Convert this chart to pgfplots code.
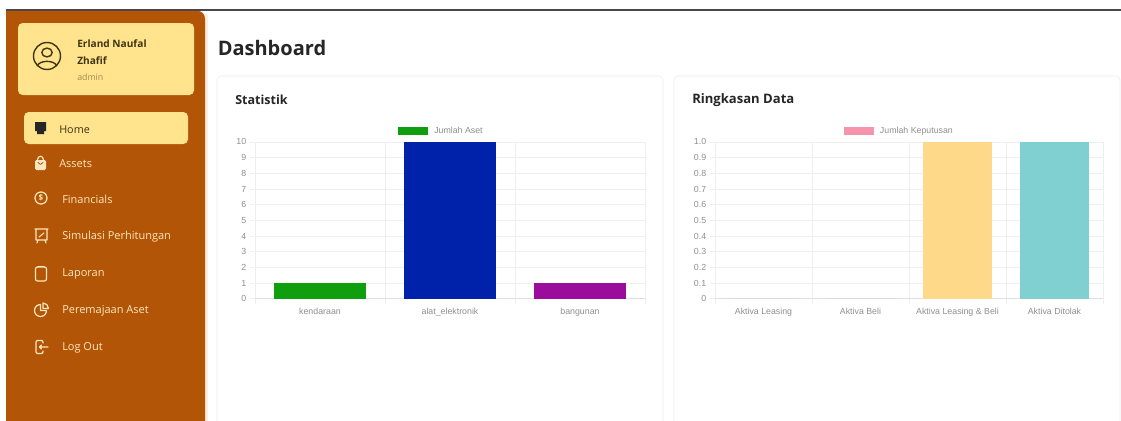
\documentclass[border=0pt]{standalone}
\usepackage{fontspec}
\usepackage{pgfplots}
\pgfplotsset{compat=1.18}
\setmainfont{Open Sans}
\newfontfamily\chartfont{Liberation Sans}
\definecolor{sidebar}{HTML}{B25506}
\definecolor{cream}{HTML}{FFE38D}
\definecolor{creamtext}{HTML}{FCE7BE}
\definecolor{inkdark}{HTML}{262626}
\definecolor{brownink}{HTML}{3F3512}
\definecolor{gridgray}{HTML}{EFEFEF}
\definecolor{axisgray}{HTML}{E0E0E0}
\definecolor{labelgray}{HTML}{8F8F8F}
\definecolor{cardline}{HTML}{F5F5F5}
\definecolor{edgeglow}{HTML}{FFEFE3}
\definecolor{barGreen}{HTML}{0E9E0E}
\definecolor{barBlue}{HTML}{0022AA}
\definecolor{barPurple}{HTML}{9C0C9C}
\definecolor{barPink}{HTML}{F493AA}
\definecolor{barSky}{HTML}{8CC4EA}
\definecolor{barYellow}{HTML}{FFD98A}
\definecolor{barTeal}{HTML}{80CFD1}

% shared look of both bar panels; sizes are given in screen pixels of 0.75pt
\pgfplotsset{
  panel/.style={
    scale only axis,
    height=156.7*0.75pt,
    axis line style={draw=gridgray,line width=0.6pt},
    ymin=0, ymax=10,
    ytick={0,1,...,10},
    xtick pos=bottom, ytick pos=left,
    ymajorgrids, grid style={draw=gridgray,line width=0.7pt},
    minor grid style={draw=gridgray,line width=0.7pt},
    xminorgrids,
    tick align=outside,
    major tick length=3.7pt,
    minor tick length=3.7pt,
    major x tick style={draw=none},
    minor x tick style={draw=gridgray,line width=0.6pt},
    y tick style={draw=gridgray,line width=0.6pt},
    x tick label style={font=\chartfont\fontsize{6.6}{8}\selectfont,text=labelgray,yshift=-0.2pt},
    y tick label style={font=\chartfont\fontsize{6.6}{8}\selectfont,text=labelgray,xshift=0.6pt},
    clip=false,
    legend cell align=left,
    legend style={draw=none,fill=none,inner sep=0pt,outer sep=0pt,
      font=\chartfont\fontsize{6.6}{8}\selectfont,text=labelgray},
    legend image code/.code={\fill[##1] (0pt,-3pt) rectangle (22.5pt,3pt);},
    every axis plot/.append style={ybar,bar shift=0pt,draw=none,forget plot},
  }
}

\begin{document}
\begin{tikzpicture}[x=0.75pt,y=-0.75pt,line cap=round,line join=round]
\useasboundingbox (0,0) rectangle (1121,421);
\fill[white] (0,0) rectangle (1121,421);

% top rule and cards
\fill[black!72] (6,9) rectangle (1121,10.8);
\draw[cardline,line width=0.8pt,rounded corners=3pt] (217,76) rectangle (663,425);
\draw[cardline,line width=0.8pt,rounded corners=3pt] (674,76) rectangle (1120,425);

% side bar
\fill[edgeglow] (205,14) rectangle (207.5,421);
\fill[sidebar] (6,10.8) -- (197,10.8) .. controls (202,10.8) and (205,14) .. (205,19) -- (205,421) -- (6,421) -- cycle;
\fill[cream,rounded corners=3.5pt] (18,23) rectangle (194,95);
\fill[cream,rounded corners=3.5pt] (24,112) rectangle (188,144);

% user badge
\draw[brownink,line width=1.05pt] (47,56) circle (13.5);
\draw[brownink,line width=1.05pt] (47,52.5) ellipse (5.2 and 4.4);
\draw[brownink,line width=1.05pt] (37.5,65.5) .. controls (40,60) and (54,60) .. (56.5,65.5);
\node[anchor=west,inner sep=0pt,text=brownink,font=\fontsize{7.6}{9}\selectfont\bfseries] at (77,44) {Erland Naufal};
\node[anchor=west,inner sep=0pt,text=brownink,font=\fontsize{7.6}{9}\selectfont\bfseries] at (77,61) {Zhafif};
\node[anchor=west,inner sep=0pt,text=brownink!50!cream,font=\fontsize{6.6}{8}\selectfont] at (77,77) {admin};

% menu entries
\node[anchor=west,inner sep=0pt,text=brownink,font=\fontsize{8.1}{10}\selectfont] at (59,129.6) {Home};
\foreach \lx/\ly/\txt in {59/163.6/Assets,62/199.6/Financials,62/236.6/Simulasi Perhitungan,62/273.6/Laporan,62/310.6/Peremajaan Aset,62/347.6/Log Out}
  \node[anchor=west,inner sep=0pt,text=creamtext,font=\fontsize{8.25}{10}\selectfont] at (\lx,\ly) {\txt};

% menu icons
\fill[inkdark] (35,122) -- (46,122) -- (46,131) -- (44,131) -- (44,134) -- (37,134) -- (37,131) -- (35,131) -- cycle;
\fill[creamtext,rounded corners=1pt] (35,160) rectangle (46,170);
\draw[creamtext,line width=0.9pt] (37.5,160) .. controls (37.5,155) and (43.5,155) .. (43.5,160);
\draw[sidebar,line width=0.6pt] (38,162.5) .. controls (39,165) and (42,165) .. (43,162.5);
\draw[creamtext,line width=0.9pt] (41,198) circle (6);
\node[text=creamtext,inner sep=0pt,font=\fontsize{6}{7}\selectfont\bfseries] at (41,198) {\$};
\draw[creamtext,line width=0.9pt] (35,229) -- (48,229) (36,229) rectangle (47,240) (38,240) -- (37,243) (45,240) -- (46,243);
\draw[creamtext,line width=0.8pt] (39,237) -- (44,233);
\draw[creamtext,line width=0.9pt,rounded corners=1.5pt] (35.5,267) rectangle (46.5,281);
\draw[creamtext,line width=0.9pt] (38,266.5) -- (44,266.5);
\draw[creamtext,line width=0.9pt] (40.5,304.5) arc[start angle=90,end angle=360,radius=4.5pt] -- (40.5,310.5) -- cycle;
\draw[creamtext,line width=0.9pt] (43,308.5) -- (43,303) arc[start angle=90,end angle=0,radius=4.1pt] -- cycle;
\draw[creamtext,line width=0.9pt,rounded corners=1pt] (43,343) -- (43,340.5) -- (36,340.5) -- (36,353.5) -- (43,353.5) -- (43,351);
\draw[creamtext,line width=0.9pt] (48,347) -- (39.5,347) (41.5,345) -- (39.5,347) -- (41.5,349);

% headings
\node[anchor=west,inner sep=0pt,text=inkdark,font=\fontsize{15}{18}\selectfont\bfseries] at (217.5,48) {Dashboard};
\node[anchor=west,inner sep=0pt,text=inkdark,font=\fontsize{9.4}{11}\selectfont\bfseries] at (235,100) {Statistik};
\node[anchor=west,inner sep=0pt,text=inkdark,font=\fontsize{9.8}{11}\selectfont\bfseries] at (692,100) {Ringkasan Data};

% asset counts per category
\begin{axis}[panel,
  at={(191.25pt,-224pt)},anchor=south west,
  width=390*0.75pt,
  xmin=-0.5,xmax=2.5,
  xtick={0,1,2},
  xticklabels={kendaraan,alat\_elektronik,bangunan},
  minor xtick={-0.5,0.5,1.5,2.5},
  yticklabels={0,1,2,3,4,5,6,7,8,9,10},
  extra y ticks={0},extra y tick labels={},
  extra y tick style={grid style={draw=axisgray,line width=0.8pt},tick style={draw=axisgray}},
  bar width=92*0.75pt,
  legend style={at={(0.367,1.07)},anchor=west}]
\addlegendimage{fill=barGreen}
\addlegendentry{\hspace{2.6pt}Jumlah Aset}
\addplot[fill=barGreen] coordinates {(0,1)};
\addplot[fill=barBlue] coordinates {(1,10)};
\addplot[fill=barPurple] coordinates {(2,1)};
\end{axis}

% decision counts per outcome
\begin{axis}[panel,
  at={(536.25pt,-224pt)},anchor=south west,
  width=388*0.75pt,
  xmin=-0.5,xmax=3.5,
  ymin=0,ymax=1,
  ytick={0,0.1,...,1.0},
  xtick={0,1,2,3},
  xticklabels={Aktiva Leasing,Aktiva Beli,Aktiva Leasing \& Beli,Aktiva Ditolak},
  minor xtick={-0.5,0.5,1.5,2.5,3.5},
  yticklabels={0,0.1,0.2,0.3,0.4,0.5,0.6,0.7,0.8,0.9,1.0},
  extra y ticks={0},extra y tick labels={},
  extra y tick style={grid style={draw=axisgray,line width=0.8pt},tick style={draw=axisgray}},
  bar width=69*0.75pt,
  legend style={at={(0.332,1.07)},anchor=west}]
\addlegendimage{fill=barPink}
\addlegendentry{\hspace{2.6pt}Jumlah Keputusan}
\addplot[fill=barPink] coordinates {(0,0)};
\addplot[fill=barSky] coordinates {(1,0)};
\addplot[fill=barYellow] coordinates {(2,1)};
\addplot[fill=barTeal] coordinates {(3,1)};
\end{axis}
\end{tikzpicture}
\end{document}
